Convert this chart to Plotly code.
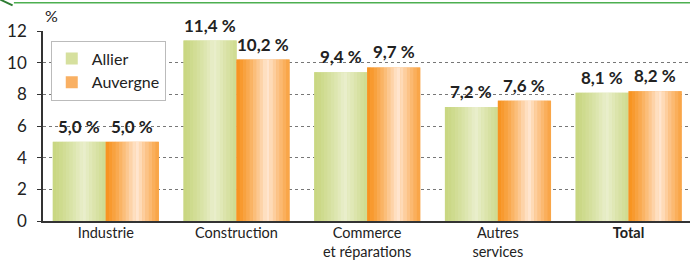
import plotly.graph_objects as go

categories = ["Industrie", "Construction", "Commerce<br>et réparations", "Autres<br>services", "<b>Total</b>"]
allier = [5.0, 11.4, 9.4, 7.2, 8.1]
auvergne = [5.0, 10.2, 9.7, 7.6, 8.2]
series_names = ["Allier", "Auvergne"]
y_ticks = [0, 2, 4, 6, 8, 10, 12]

def fmt(v):
    return f"{v:.1f} %".replace(".", ",")

def mix(c1, c2, f):
    return "rgb(%d,%d,%d)" % tuple(round(a + (b - a) * f) for a, b in zip(c1, c2))

styles = [
    {"edge": (200, 214, 128), "light": (234, 239, 205), "mid": "#d6e09e", "start": -0.405},
    {"edge": (247, 146, 30), "light": (255, 232, 212), "mid": "#f9b063", "start": 0.0},
]
bw = 0.405
N = 16

fig = go.Figure()
annotations = []
for name, vals, st in zip(series_names, [allier, auvergne], styles):
    fig.add_trace(go.Bar(
        x=categories, y=vals, name=name, width=bw, offset=st["start"],
        marker=dict(color=st["mid"], line=dict(width=0)),
    ))
    for i in range(N):
        t = (i + 0.5) / N
        f = max(0.0, 1 - abs(t - 0.58) / 0.58)
        f = f ** 1.3
        fig.add_trace(go.Bar(
            x=categories, y=vals, width=bw / N + 0.002, offset=st["start"] + i * bw / N,
            marker=dict(color=mix(st["edge"], st["light"], f), line=dict(width=0)),
            showlegend=False, hoverinfo="skip",
        ))
    for k, v in enumerate(vals):
        annotations.append(dict(
            x=k + st["start"] + bw / 2, y=v, xref="x", yref="y",
            text="<b>" + fmt(v) + "</b>", showarrow=False,
            yanchor="bottom", yshift=3,
            font=dict(family="Lato", size=17, color="#222222"),
        ))

annotations.append(dict(text="%", xref="paper", yref="paper", x=0.0, y=1.02,
                        xanchor="left", yanchor="bottom", showarrow=False,
                        font=dict(family="Lato", size=16, color="#222222")))

fig.update_layout(
    width=690, height=261,
    margin=dict(l=43, r=0, t=31, b=40),
    barmode="overlay",
    plot_bgcolor="white", paper_bgcolor="white",
    font=dict(family="Lato", color="#222222"),
    showlegend=True,
    legend=dict(x=0.012, y=0.95, xanchor="left", yanchor="top",
                bgcolor="white", bordercolor="#bbbbbb", borderwidth=1,
                font=dict(family="Lato", size=16, color="#222222"),
                tracegroupgap=2),
    xaxis=dict(type="category", range=[-0.48, 4.47], showgrid=False, automargin=False,
               showline=True, linecolor="#333333", linewidth=1.5, ticks="",
               ticklabelstandoff=-2,
               tickfont=dict(family="Lato", size=14.5, color="#222222")),
    yaxis=dict(range=[0, 12], tickvals=y_ticks, showgrid=True, gridcolor="#777777",
               griddash="dot", gridwidth=1, zeroline=False, automargin=False,
               showline=True, linecolor="#333333", linewidth=1.5,
               ticks="outside", ticklen=4, tickcolor="#333333",
               ticklabelstandoff=7,
               tickfont=dict(family="Lato", size=17, color="#222222")),
    annotations=annotations,
    shapes=[
        dict(type="line", xref="paper", yref="paper", x0=-0.045, x1=1.0,
             y0=1.149, y1=1.149, line=dict(color="#4caf50", width=1.5)),
        dict(type="line", xref="paper", yref="paper", x0=-0.066, x1=-0.047,
             y0=1.165, y1=1.135, line=dict(color="#2e7d32", width=2)),
    ],
)
fig.write_html("out.html", config={"displayModeBar": False, "scrollZoom": False},
               include_plotlyjs=True,
               post_script=("var s=document.createElement('style');"
                            "s.textContent='html,body{margin:0;padding:0;overflow:hidden;height:261px;}"
                            "::-webkit-scrollbar{display:none;}';"
                            "document.head.appendChild(s);"
                            "window.scrollTo(0,0);"))
